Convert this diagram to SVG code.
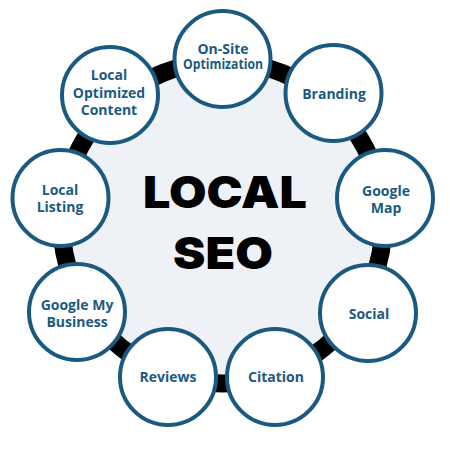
<svg xmlns="http://www.w3.org/2000/svg" width="450" height="450" viewBox="0 0 450 450">
<style>
.n circle{fill:#ffffff;stroke:#1b5a80;stroke-width:4}
.n text{font-family:"Open Sans","Noto Sans",sans-serif;font-weight:700;font-size:14px;fill:#1b5a80;text-anchor:middle}
.hub{font-family:Inter,"Liberation Sans",sans-serif;font-weight:900;font-size:44px;fill:#000000;text-anchor:middle}
</style>
<rect width="450" height="450" fill="#ffffff"/>
<g id="center">
<circle cx="222.5" cy="222.5" r="161" fill="#eef2f6" stroke="#000000" stroke-width="18"/>
<text class="hub" x="225" y="208" textLength="164" lengthAdjust="spacingAndGlyphs">LOCAL</text>
<text class="hub" x="223" y="269" textLength="100" lengthAdjust="spacingAndGlyphs">SEO</text>
</g>
<g id="connectors"></g>
<g id="onsite" class="n"><circle cx="222.5" cy="59" r="48"/><text x="223" y="54">On-Site</text><text x="223" y="69" textLength="80" lengthAdjust="spacingAndGlyphs">Optimization</text></g>
<g id="branding" class="n"><circle cx="333.5" cy="93" r="48"/><text x="334" y="99">Branding</text></g>
<g id="googlemap" class="n"><circle cx="385" cy="198" r="48"/><text x="386" y="196">Google</text><text x="386" y="213">Map</text></g>
<g id="social" class="n"><circle cx="368" cy="313" r="48"/><text x="369" y="319">Social</text></g>
<g id="citation" class="n"><circle cx="275" cy="377" r="48"/><text x="276" y="382">Citation</text></g>
<g id="reviews" class="n"><circle cx="168" cy="377" r="48"/><text x="168" y="382">Reviews</text></g>
<g id="gmb" class="n"><circle cx="77" cy="312" r="48"/><text x="77" y="310">Google My</text><text x="77" y="327">Business</text></g>
<g id="listing" class="n"><circle cx="60.5" cy="198" r="48"/><text x="60" y="195">Local</text><text x="60" y="212">Listing</text></g>
<g id="content" class="n"><circle cx="110" cy="95" r="48"/><text x="109" y="80">Local</text><text x="109" y="98">Optimized</text><text x="109" y="115">Content</text></g>
</svg>
